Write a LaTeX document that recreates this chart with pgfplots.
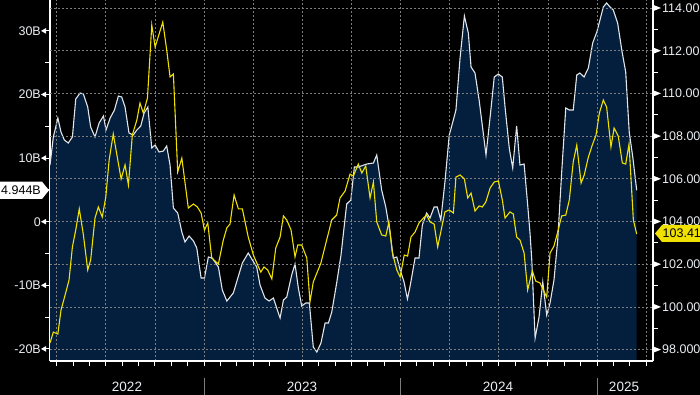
\documentclass[border=0pt]{standalone}
\usepackage{fontspec}
\setmainfont{Liberation Sans}
\usepackage{pgfplots}
\pgfplotsset{compat=1.18}
\usepackage{pgfplotstable}
\definecolor{navy}{RGB}{4,31,61}
\definecolor{yel}{RGB}{240,225,0}
\definecolor{gridc}{RGB}{125,125,125}
\definecolor{lbl}{RGB}{235,238,242}
\definecolor{wline}{RGB}{225,228,232}

\pgfplotstableread{
x y
2022.216 8.91
2022.233 13.32
2022.256 16.30
2022.272 14.10
2022.289 12.85
2022.309 12.37
2022.330 13.32
2022.347 19.29
2022.369 20.24
2022.386 20.08
2022.408 18.03
2022.423 14.89
2022.445 13.32
2022.466 15.52
2022.488 16.62
2022.501 14.42
2022.522 16.30
2022.544 17.56
2022.564 19.76
2022.581 19.61
2022.598 18.03
2022.618 13.95
2022.640 13.63
2022.658 14.42
2022.678 15.05
2022.695 17.09
2022.714 18.03
2022.734 11.59
2022.751 12.06
2022.771 10.96
2022.793 11.12
2022.810 11.90
2022.827 8.91
2022.844 2.15
2022.866 1.37
2022.887 -1.62
2022.903 -3.19
2022.924 -2.25
2022.946 -3.03
2022.963 -4.14
2022.985 -8.85
2023.002 -8.85
2023.022 -5.55
2023.042 -5.71
2023.073 -7.12
2023.093 -10.74
2023.116 -12.47
2023.149 -11.21
2023.172 -8.85
2023.195 -6.49
2023.225 -4.92
2023.246 -6.02
2023.268 -7.12
2023.285 -9.95
2023.310 -12.00
2023.331 -12.47
2023.353 -12.00
2023.387 -15.14
2023.404 -12.31
2023.421 -11.84
2023.446 -8.38
2023.463 -6.65
2023.480 -10.42
2023.497 -13.25
2023.518 -12.78
2023.536 -12.78
2023.556 -19.70
2023.574 -20.49
2023.595 -19.07
2023.616 -15.93
2023.633 -15.93
2023.650 -14.20
2023.675 -9.64
2023.697 -5.24
2023.726 2.78
2023.747 3.41
2023.765 8.60
2023.785 8.60
2023.828 9.07
2023.862 9.23
2023.879 10.49
2023.904 4.98
2023.925 2.31
2023.947 -1.78
2023.963 -5.71
2023.981 -5.55
2023.998 -7.59
2024.018 -9.48
2024.035 -12.15
2024.048 -10.27
2024.074 -5.71
2024.094 -5.71
2024.111 -0.52
2024.133 1.37
2024.150 0.58
2024.171 2.31
2024.187 2.31
2024.205 0.27
2024.226 6.24
2024.248 13.63
2024.266 15.68
2024.282 17.56
2024.303 25.74
2024.325 32.34
2024.345 29.67
2024.359 24.32
2024.379 23.38
2024.400 19.14
2024.416 15.20
2024.435 10.49
2024.456 16.46
2024.477 22.75
2024.498 23.22
2024.518 22.75
2024.532 18.03
2024.554 11.43
2024.571 8.44
2024.591 15.05
2024.608 8.91
2024.629 9.07
2024.645 3.41
2024.659 -1.78
2024.668 -6.02
2024.685 -18.29
2024.705 -14.98
2024.724 -9.48
2024.744 -14.67
2024.761 -12.78
2024.781 -9.17
2024.800 -2.88
2024.820 7.66
2024.841 17.88
2024.859 17.56
2024.879 17.56
2024.897 23.07
2024.913 23.38
2024.934 22.75
2024.956 24.17
2024.978 28.10
2024.999 29.83
2025.015 31.71
2025.032 33.76
2025.049 34.39
2025.066 33.76
2025.083 33.29
2025.105 31.24
2025.126 27.00
2025.146 23.54
2025.164 14.10
2025.182 10.17
2025.202 4.944
}\whitedata

\pgfplotstableread{
x y
2022.216 98.31
2022.233 98.82
2022.256 98.73
2022.272 99.85
2022.293 100.56
2022.313 101.26
2022.330 102.81
2022.347 103.60
2022.365 104.59
2022.386 103.37
2022.408 101.73
2022.423 102.20
2022.445 104.16
2022.462 104.68
2022.482 104.21
2022.500 105.15
2022.517 106.88
2022.538 108.10
2022.561 106.88
2022.578 105.99
2022.598 106.65
2022.615 105.71
2022.635 108.05
2022.658 108.75
2022.674 109.55
2022.691 109.08
2022.712 109.78
2022.734 113.20
2022.751 112.17
2022.790 113.34
2022.810 112.03
2022.827 110.77
2022.844 110.91
2022.866 106.32
2022.887 106.97
2022.920 104.63
2022.946 104.82
2022.966 104.68
2022.985 104.40
2023.002 103.60
2023.019 103.93
2023.039 102.29
2023.073 102.01
2023.098 103.13
2023.116 103.70
2023.132 103.88
2023.153 105.24
2023.175 104.59
2023.195 104.59
2023.225 103.27
2023.251 102.43
2023.273 101.96
2023.289 101.63
2023.305 101.87
2023.324 101.73
2023.345 101.31
2023.365 102.76
2023.387 103.27
2023.404 104.26
2023.421 104.07
2023.443 103.60
2023.463 102.34
2023.477 102.90
2023.497 102.90
2023.523 102.29
2023.539 100.23
2023.556 101.17
2023.595 102.06
2023.624 103.13
2023.650 104.07
2023.675 104.30
2023.692 105.10
2023.718 105.43
2023.743 106.22
2023.760 106.13
2023.785 106.69
2023.803 106.27
2023.823 106.60
2023.845 105.10
2023.862 105.85
2023.879 103.98
2023.904 103.37
2023.925 103.32
2023.941 103.98
2023.958 102.57
2023.981 101.73
2023.998 101.40
2024.019 102.43
2024.036 102.38
2024.053 103.27
2024.074 103.51
2024.094 103.93
2024.116 104.16
2024.133 104.30
2024.150 103.98
2024.171 103.88
2024.189 102.81
2024.210 103.74
2024.226 104.45
2024.247 104.54
2024.269 104.40
2024.282 106.08
2024.303 106.18
2024.325 105.99
2024.342 105.10
2024.359 105.33
2024.379 104.49
2024.400 104.73
2024.416 104.68
2024.434 104.91
2024.456 105.57
2024.477 105.85
2024.498 105.90
2024.518 105.01
2024.532 104.16
2024.557 104.45
2024.574 104.35
2024.591 103.27
2024.608 103.13
2024.629 102.52
2024.647 100.79
2024.659 101.26
2024.671 101.68
2024.688 101.21
2024.710 101.12
2024.727 100.79
2024.744 100.46
2024.761 102.52
2024.781 102.85
2024.800 103.51
2024.820 104.26
2024.841 104.30
2024.859 105.01
2024.879 106.79
2024.897 107.58
2024.919 105.80
2024.935 106.18
2024.956 107.02
2024.976 107.58
2024.995 108.05
2025.012 109.08
2025.032 109.69
2025.049 109.36
2025.071 107.49
2025.087 108.38
2025.108 108.00
2025.129 106.74
2025.146 106.69
2025.163 107.63
2025.185 104.07
2025.202 103.41
}\yellowdata

\begin{document}
\begin{tikzpicture}[x=1pt,y=1pt]
\fill[black] (0,0) rectangle (700,395);
\useasboundingbox (0,0) rectangle (700,395);

% left axis: white series with navy area
\begin{axis}[
  at={(50pt,34pt)}, anchor=south west,
  scale only axis, width=603pt, height=361pt,
  xmin=2022.216, xmax=2025.285, ymin=-21.90, ymax=34.86,
  axis x line=none, axis y line*=left,
  axis line style={white, line width=1.2pt},
  ytick={-20,-10,0,10,20,30},
  yticklabels={-20B,-10B,0,10B,20B,30B},
  minor ytick={-15,-5,5,15,25},
  tick align=outside, major tick length=5pt, minor tick length=5pt,
  every tick/.style={white, line width=1pt},
  yticklabel style={font=\fontsize{12.5}{14}\selectfont, text=lbl, anchor=east, inner sep=0pt, xshift=-4pt},
  clip=false]
\addplot[fill=navy, draw=none] table {\whitedata} |- (axis cs:2022.216,-21.90) -- cycle;
\addplot[color=wline, line width=1.1pt] table {\whitedata};
\end{axis}

% right axis: yellow series, grid, bottom axis
\begin{axis}[
  at={(50pt,34pt)}, anchor=south west,
  scale only axis, width=603pt, height=361pt,
  xmin=2022.216, xmax=2025.285, ymin=97.466, ymax=114.375,
  axis x line*=bottom, axis y line*=right,
  axis line style={white, line width=1.2pt},
  xtick={2022.25,2022.5,...,2025.25}, xticklabels={}, minor x tick num=2,
  ytick={98,100,...,114},
  yticklabels={98.000,100.000,102.000,104.000,106.000,108.000,110.000,112.000,114.000},
  minor ytick={99,101,...,113},
  xmajorgrids, ymajorgrids,
  grid style={gridc, dash pattern=on 2pt off 2pt, line width=0.7pt},
  tick align=outside, major tick length=5pt, minor tick length=5pt,
  every tick/.style={white, line width=1pt},
  yticklabel style={font=\fontsize{12.5}{14}\selectfont, text=lbl, anchor=west, inner sep=0pt, xshift=4pt},
  clip=false]
\addplot[color=yel, line width=1.1pt] table {\yellowdata};
\end{axis}

% triangular major tick pointers
\foreach \yy in {46.1,109.7,173.3,236.9,300.5,364.1}
  \fill[white] (41,\yy) -- (46,\yy+2.8) -- (46,\yy-2.8) -- cycle;
\foreach \yy in {45.4,88.1,130.8,173.5,216.2,258.9,301.6,344.3,387.0}
  \fill[white] (661,\yy) -- (654,\yy+2.8) -- (654,\yy-2.8) -- cycle;

% year separators and labels
\foreach \xx in {204.5,400.5,597.5}
  \draw[gridc, line width=0.8pt] (\xx,0) -- (\xx,17);
\foreach \xx/\lab in {127/2022,302/2023,498/2024,624/2025}
  \node[text=lbl, font=\fontsize{13.5}{15}\selectfont, inner sep=0pt] at (\xx,8.5) {\lab};

% last value labels
\fill[white] (0,196) -- (42,196) -- (49,204.7) -- (42,213.4) -- (0,213.4) -- cycle;
\node[text=black, font=\fontsize{12.5}{14}\selectfont, anchor=west, inner sep=0pt] at (1,204.7) {4.944B};
\fill[yel] (655,161.5) -- (662,170) -- (702,170) -- (702,153) -- (662,153) -- cycle;
\node[text=black, font=\fontsize{12.5}{14}\selectfont, anchor=west, inner sep=0pt] at (662.5,161.5) {103.41};
\end{tikzpicture}
\end{document}
